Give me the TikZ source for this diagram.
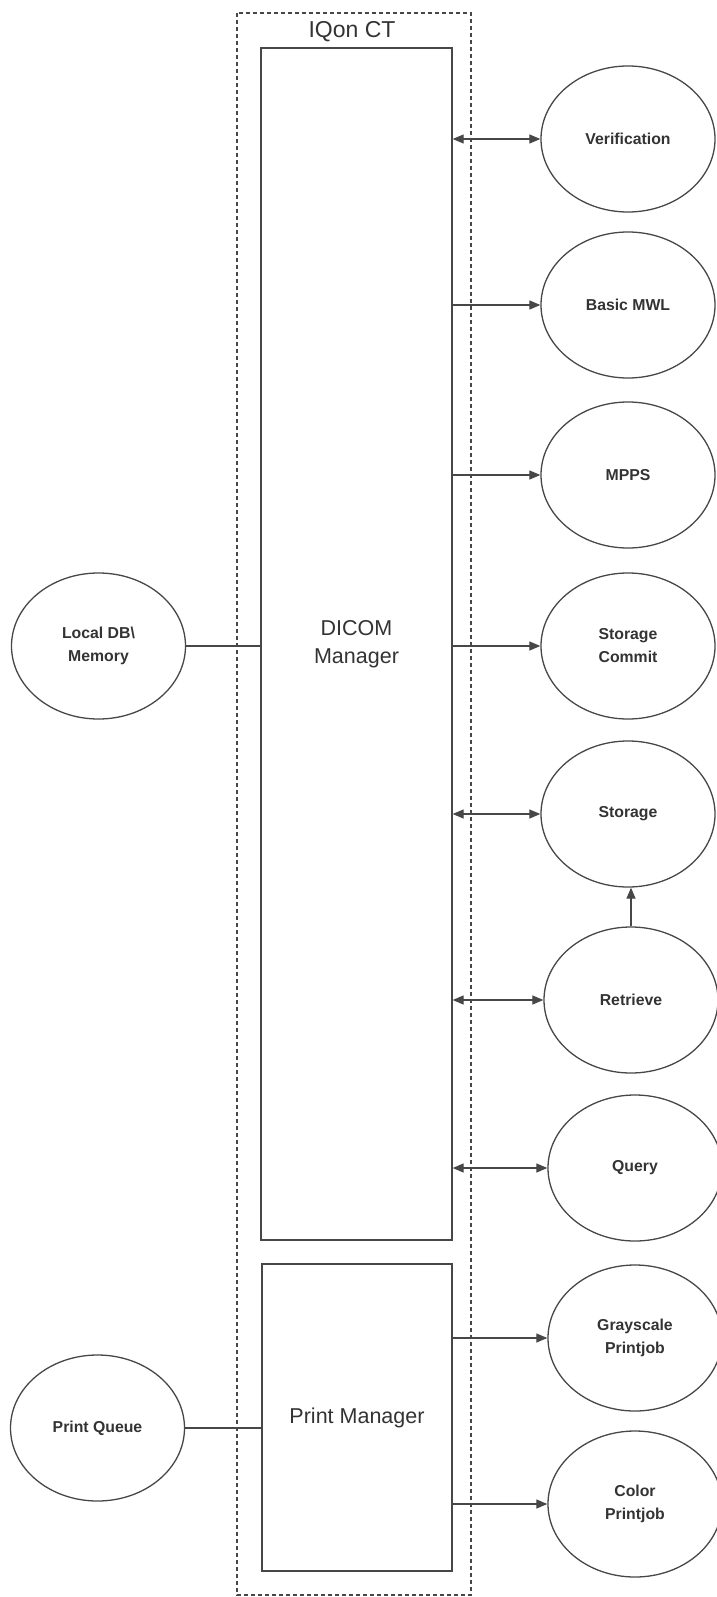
\documentclass[tikz,border=0pt]{standalone}
\usepackage{fontspec}
\setmainfont{Liberation Sans}
\usetikzlibrary{shapes.geometric,arrows.meta}
\definecolor{linec}{HTML}{474747}
\definecolor{textc}{HTML}{333333}
\begin{document}
\begin{tikzpicture}[x=1pt,y=-1pt,
  every node/.style={text=textc},
  svc/.style={ellipse,draw=linec,line width=1.3pt,minimum width=174pt,minimum height=146pt,inner sep=0pt,align=center,font=\fontsize{15.8}{23}\selectfont\bfseries},
  mgr/.style={rectangle,draw=linec,line width=1.3pt,inner sep=0pt,align=center,font=\fontsize{21.5}{28}\selectfont},
  conn/.style={draw=linec,line width=1.2pt},
  tip/.style={-{Triangle[length=11pt,width=9pt]}},
  dtip/.style={{Triangle[length=11pt,width=9pt]}-{Triangle[length=11pt,width=9pt]}},
  outer/.style={draw=linec,line width=1.1pt,dash pattern=on 4pt off 3pt}]
\useasboundingbox (0,0) rectangle (716,1597);
\draw[outer] (237,13) rectangle (471,1595);
\node[font=\fontsize{23}{28}\selectfont] (title) at (352,32) {IQon CT};
\node[mgr,minimum width=191pt,minimum height=1192pt] (dicom) at (356.5,644) {DICOM\\Manager};
\node[mgr,minimum width=190pt,minimum height=307pt] (pm) at (357,1417.5) {Print Manager};
\node[svc] (ldb) at (98.5,646) {Local DB\textbackslash\\Memory};
\node[svc] (pq) at (97.5,1428) {Print Queue};
\node[svc] (ver) at (628,139) {Verification};
\node[svc] (mwl) at (628,305) {Basic MWL};
\node[svc] (mpps) at (628,475) {MPPS};
\node[svc] (sc) at (628,646) {Storage\\Commit};
\node[svc] (sto) at (628,814) {Storage};
\node[svc] (ret) at (631,1000) {Retrieve};
\node[svc] (qry) at (635,1168) {Query};
\node[svc] (gray) at (635,1338) {Grayscale\\Printjob};
\node[svc] (col) at (635,1504) {Color\\Printjob};
\draw[conn,dtip] (dicom.east |- ver.west) -- (ver.west);
\draw[conn,tip] (dicom.east |- mwl.west) -- (mwl.west);
\draw[conn,tip] (dicom.east |- mpps.west) -- (mpps.west);
\draw[conn,tip] (dicom.east |- sc.west) -- (sc.west);
\draw[conn,dtip] (dicom.east |- sto.west) -- (sto.west);
\draw[conn,dtip] (dicom.east |- ret.west) -- (ret.west);
\draw[conn,dtip] (dicom.east |- qry.west) -- (qry.west);
\draw[conn,tip] (pm.east |- gray.west) -- (gray.west);
\draw[conn,tip] (pm.east |- col.west) -- (col.west);
\draw[conn,tip] (ret.north) -- (ret.north |- sto.south);
\draw[conn] (ldb.east) -- (dicom.west |- ldb.east);
\draw[conn] (pq.east) -- (pm.west |- pq.east);
\end{tikzpicture}
\end{document}
